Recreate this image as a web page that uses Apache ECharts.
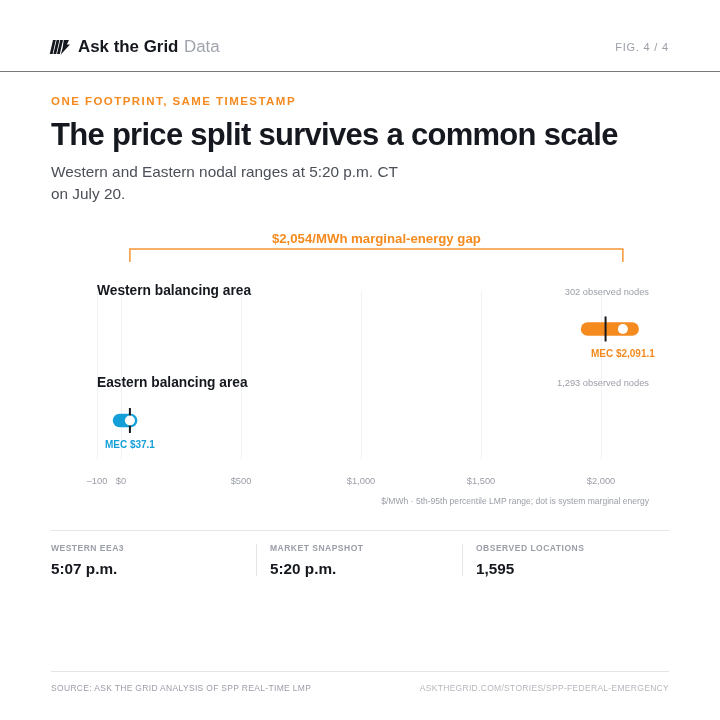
<!DOCTYPE html>
<html>
<head>
<meta charset="utf-8">
<style>
  html, body { margin: 0; padding: 0; background: #fff; }
  #page { position: relative; width: 720px; height: 720px; overflow: hidden; font-family: "Liberation Sans", Arial, sans-serif; }
  #chart { width: 720px; height: 720px; }
  .t { position: absolute; white-space: nowrap; line-height: 20px; height: 20px; pointer-events: none; }
</style>
<script src="https://cdn.jsdelivr.net/npm/echarts@6/dist/echarts.min.js"></script>
</head>
<body>
<div id="page"><div id="chart"></div></div>
<script>
// values ($/MWh)
const areas = ['Western balancing area', 'Eastern balancing area']
const nodeCounts = ['302 observed nodes', '1,293 observed nodes']
const rangeLow = [1944, -6]
const rangeHigh = [2130, 40]
const tickMark = [2019, 37.1]
const mec = [2091.1, 37.1]
const mecLabels = ['MEC $2,091.1', 'MEC $37.1']
const axisTicks = [-100, 0, 500, 1000, 1500, 2000]
const gapLabel = '$2,054/MWh marginal-energy gap'
const stats = [
  ['WESTERN EEA3', '5:07 p.m.'],
  ['MARKET SNAPSHOT', '5:20 p.m.'],
  ['OBSERVED LOCATIONS', '1,595']
]

const FONT = '"Liberation Sans", Arial, sans-serif'
const ORANGE = '#f58a1f'
const BLUE = '#159fd8'
const INK = '#15181e'
const GREY = '#9a9ea6'
const areaColors = [ORANGE, BLUE]

// page text sits in the DOM because canvas text has no letter spacing here
function addText(x, y, str, size, color, css = {}) {
  const el = document.createElement('div')
  el.className = 't'
  el.textContent = str
  el.style.top = (y - 10) + 'px'
  if (css.right) el.style.right = (720 - x) + 'px'
  else el.style.left = x + 'px'
  el.style.fontSize = size + 'px'
  el.style.color = color
  el.style.fontWeight = css.bold ? 'bold' : 'normal'
  if (css.spacing) el.style.letterSpacing = css.spacing + 'px'
  document.getElementById('page').appendChild(el)
}
function rule(x1, x2, y, color) {
  return { type: 'line', shape: { x1, y1: y, x2, y2: y }, style: { stroke: color, lineWidth: 1 } }
}
function vrule(x, y1, y2) {
  return { type: 'line', shape: { x1: x, y1, x2: x, y2 }, style: { stroke: '#e4e5e8', lineWidth: 1 } }
}

addText(78, 47, 'Ask the Grid', 16.9, INK, { bold: true })
addText(184, 47, 'Data', 16.9, '#9fa3ab')
addText(669, 47, 'FIG. 4 / 4', 11, GREY, { right: true, spacing: 0.8 })
addText(51, 101, 'ONE FOOTPRINT, SAME TIMESTAMP', 11.5, ORANGE, { bold: true, spacing: 1.45 })
addText(51, 135, 'The price split survives a common scale', 31, INK, { bold: true, spacing: -0.71 })
addText(51, 172, 'Western and Eastern nodal ranges at 5:20 p.m. CT', 15.35, '#4b4f57')
addText(51, 194, 'on July 20.', 15.35, '#4b4f57')
addText(649, 501, '$/MWh \u00b7 5th-95th percentile LMP range; dot is system marginal energy', 8.55, GREY, { right: true })
addText(51, 688, 'SOURCE: ASK THE GRID ANALYSIS OF SPP REAL-TIME LMP', 8.5, GREY, { spacing: 0.32 })
addText(669, 688, 'ASKTHEGRID.COM/STORIES/SPP-FEDERAL-EMERGENCY', 8.5, '#b4b7bd', { right: true, spacing: 0.3 })

const statX = [51, 270, 476]
stats.forEach((s, i) => {
  addText(statX[i], 548, s[0], 8.5, GREY, { bold: true, spacing: 0.5 })
  addText(statX[i], 568.5, s[1], 15.3, INK, { bold: true })
})

const furniture = [
  // logo: slashes and bolt
  { type: 'polygon', shape: { points: [[53, 40], [55.8, 40], [52.6, 54], [49.8, 54]] }, style: { fill: INK } },
  { type: 'polygon', shape: { points: [[56.6, 40], [59.4, 40], [56.2, 54], [53.4, 54]] }, style: { fill: INK } },
  { type: 'polygon', shape: { points: [[60.2, 40], [63, 40], [59.8, 54], [57, 54]] }, style: { fill: INK } },
  { type: 'polygon', shape: { points: [[63.8, 40], [69, 40], [66.8, 44.5], [70, 44.5], [60.8, 54.5], [62.6, 48]] }, style: { fill: INK } },
  rule(0, 720, 71.5, '#77797c'),
  rule(51, 669, 530.5, '#e4e5e8'),
  vrule(256.5, 544, 576),
  vrule(462.5, 544, 576),
  rule(51, 669, 671.5, '#e4e5e8')
]

const rows = areas.map((name, i) => i)

const option = {
  animation: false,
  backgroundColor: '#fff',
  textStyle: { fontFamily: FONT },
  grid: { left: 97, right: 71, top: 291, height: 168 },
  xAxis: {
    type: 'value',
    min: -100,
    max: 2200,
    axisLine: { show: false },
    axisTick: { show: false },
    axisLabel: {
      color: GREY,
      fontSize: 9.3,
      margin: 18,
      customValues: axisTicks,
      formatter: v => (v < 0 ? '\u2013' + Math.abs(v) : '$' + v.toLocaleString('en-US'))
    },
    splitLine: { show: true, showMaxLine: false, lineStyle: { color: '#f0f1f3', width: 1 } }
  },
  // rows sit at 0 and 1; the padding keeps the gridlines the right length
  yAxis: { type: 'value', inverse: true, min: -0.415, max: 1.421, show: false },
  graphic: furniture,
  series: [
    {
      // percentile range pill
      type: 'custom',
      data: rows.map(i => [rangeLow[i], rangeHigh[i], i]),
      encode: { x: [0, 1], y: 2 },
      clip: false,
      renderItem(params, api) {
        const a = api.coord([api.value(0), api.value(2)])
        const b = api.coord([api.value(1), api.value(2)])
        return {
          type: 'line',
          shape: { x1: a[0], y1: a[1], x2: b[0], y2: b[1] },
          style: { stroke: areaColors[params.dataIndex], lineWidth: 13.5, lineCap: 'round' }
        }
      }
    },
    {
      // black tick through the pill
      type: 'custom',
      data: rows.map(i => [tickMark[i], i]),
      encode: { x: 0, y: 1 },
      clip: false,
      z: 3,
      renderItem(params, api) {
        const c = api.coord([api.value(0), api.value(1)])
        return {
          type: 'line',
          shape: { x1: c[0], y1: c[1] - 12.5, x2: c[0], y2: c[1] + 12.5 },
          style: { stroke: INK, lineWidth: 2 }
        }
      }
    },
    {
      // system marginal energy dot
      type: 'scatter',
      z: 4,
      symbolSize: 10,
      clip: false,
      itemStyle: { color: '#fff', opacity: 1 },
      label: {
        show: true,
        position: 'bottom',
        distance: 15,
        fontFamily: FONT,
        fontSize: 10,
        fontWeight: 'bold',
        formatter: p => mecLabels[p.dataIndex]
      },
      data: rows.map(i => ({ value: [mec[i], i], label: { color: areaColors[i] } }))
    },
    {
      // row headings and node counts, anchored to the rows
      type: 'custom',
      data: rows.map(i => [i]),
      encode: { y: 0 },
      clip: false,
      silent: true,
      renderItem(params, api) {
        const y = api.coord([0, api.value(0)])[1]
        const i = params.dataIndex
        return {
          type: 'group',
          children: [
            { type: 'text', x: 97, y: y - 37.5, style: { text: areas[i], fontFamily: FONT, fontSize: 13.75, fontWeight: 'bold', fill: INK, textVerticalAlign: 'middle' } },
            { type: 'text', x: 649, y: y - 37, style: { text: nodeCounts[i], fontFamily: FONT, fontSize: 9.3, fill: GREY, textAlign: 'right', textVerticalAlign: 'middle' } }
          ]
        }
      }
    },
    {
      // bracket between the two MEC values
      type: 'custom',
      data: [[mec[1], mec[0]]],
      encode: { x: [0, 1] },
      clip: false,
      silent: true,
      renderItem(params, api) {
        const l = api.coord([api.value(0), 0])[0]
        const r = api.coord([api.value(1), 0])[0]
        return {
          type: 'group',
          children: [
            {
              type: 'polyline',
              shape: { points: [[l, 262], [l, 249], [r, 249], [r, 262]] },
              style: { stroke: ORANGE, lineWidth: 1.5, fill: 'none', opacity: 0.9 }
            },
            {
              type: 'text', x: (l + r) / 2, y: 239,
              style: { text: gapLabel, fontFamily: FONT, fontSize: 13.2, fontWeight: 'bold', fill: ORANGE, textAlign: 'center', textVerticalAlign: 'middle' }
            }
          ]
        }
      }
    }
  ]
}

const chart = echarts.init(document.getElementById('chart'), null, { renderer: 'canvas' })
chart.setOption(option)
</script>
</body>
</html>
